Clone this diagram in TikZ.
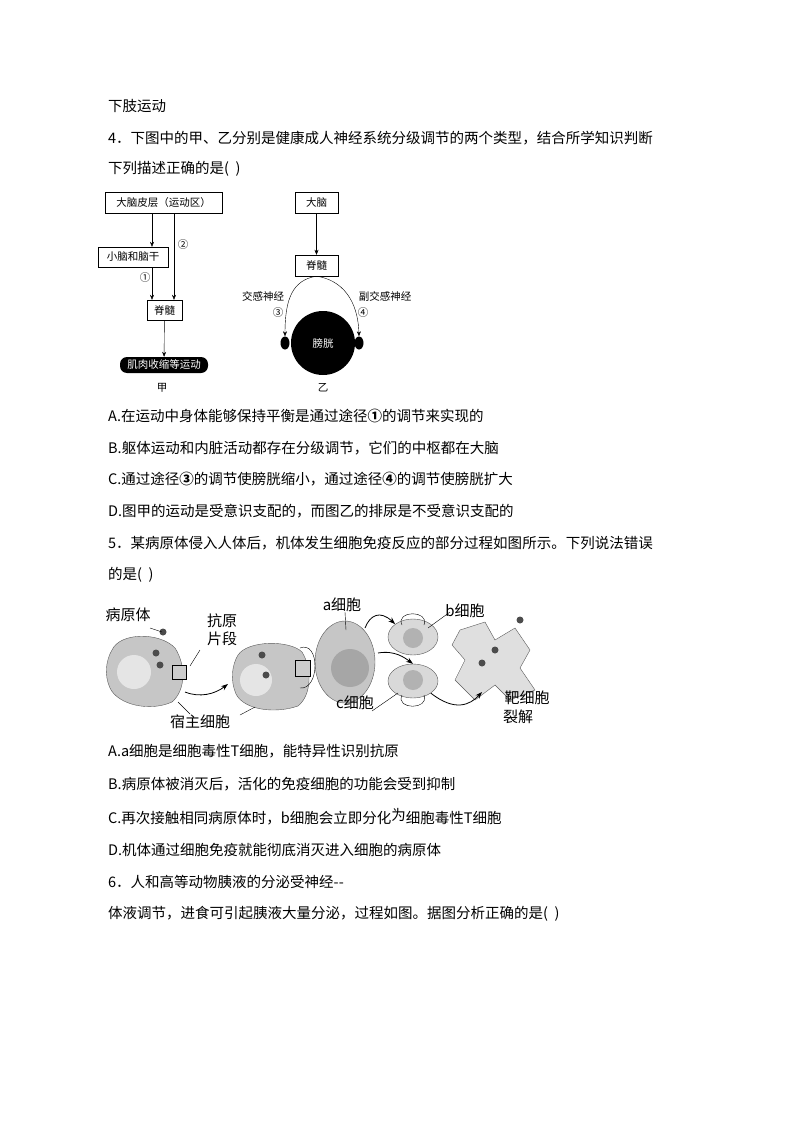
\documentclass[tikz,border=0pt]{standalone}
\usepackage{fontspec}
\setmainfont{Noto Sans CJK SC}
\usetikzlibrary{arrows.meta,shapes.geometric}
\begin{document}
\begin{tikzpicture}[x=1pt,y=-1pt,
  txt/.style={anchor=west,inner sep=0,font=\fontsize{14.5}{16}\selectfont},
  bx/.style={draw,thin,inner sep=0,font=\fontsize{10.5}{11}\selectfont},
  sm/.style={inner sep=0,font=\fontsize{10.5}{11}\selectfont},
  lb/.style={inner sep=0,font=\fontsize{15}{16}\selectfont},
  ar/.style={-{Stealth[length=5pt,width=4pt]},thin},
  car/.style={-{Stealth[length=7pt,width=5pt]},thick},
  cell/.style={fill=gray!45,draw=gray!70!black,thin}]
\useasboundingbox (0,0) rectangle (794,1123);
\node[txt] (t0) at (108,106) {下肢运动};
\node[txt] (t1) at (108,138) {4．下图中的甲、乙分别是健康成人神经系统分级调节的两个类型，结合所学知识判断};
\node[txt] (t2) at (108,169) {下列描述正确的是(\ \ )};
% diagram 甲
\node[bx,minimum width=117,minimum height=21] (dn) at (163.5,202.5) {大脑皮层（运动区）};
\node[bx,minimum width=70,minimum height=20] (xn) at (133,257) {小脑和脑干};
\node[bx,minimum width=35,minimum height=20] (jl) at (164.5,310) {脊髓};
\node[fill=black,text=white,rounded corners=7pt,minimum width=88,minimum height=16,inner sep=0,font=\fontsize{10.5}{11}\selectfont] (jr) at (164,365) {肌肉收缩等运动};
\node[sm] (jia) at (162,388) {甲};
\draw[ar] (dn.south -| 152,0) -- (xn.north -| 152,0);
\draw[ar] (dn.south -| 174,0) -- (jl.north -| 174,0);
\draw[ar] (xn.south -| 152,0) -- (jl.north -| 152,0);
\draw[ar] (jl) -- (jr);
\node[sm] (c2) at (183,245) {②};
\node[sm] (c1) at (145,278) {①};
% diagram 乙
\node[bx,minimum width=43,minimum height=21] (dn2) at (316.5,202.5) {大脑};
\node[bx,minimum width=43,minimum height=21] (jl2) at (316.5,265.5) {脊髓};
\draw[ar] (dn2) -- (jl2);
\node[circle,fill=black,minimum size=64,inner sep=0,text=white,font=\fontsize{10.5}{11}\selectfont] (pg) at (323,343) {膀胱};
\node[ellipse,fill=black,minimum width=9,minimum height=13,inner sep=0] (el) at (285,343) {};
\node[ellipse,fill=black,minimum width=9,minimum height=13,inner sep=0] (er) at (359,343) {};
\draw[ar] (jl2.south) .. controls (292,280) and (285,300) .. (el.north);
\draw[ar] (jl2.south) .. controls (342,280) and (358,300) .. (er.north);
\node[sm] (jg) at (263,296) {交感神经};
\node[sm] (c3) at (278,313) {③};
\node[sm] (fj) at (385,296) {副交感神经};
\node[sm] (c4) at (363,313) {④};
\node[sm] (yi) at (323,388) {乙};
\node[txt] (a4) at (108,416) {A.在运动中身体能够保持平衡是通过途径\textbf{①}的调节来实现的};
\node[txt] (b4) at (108,448) {B.躯体运动和内脏活动都存在分级调节，它们的中枢都在大脑};
\node[txt] (c4t) at (108,479) {C.通过途径\textbf{③}的调节使膀胱缩小，通过途径\textbf{④}的调节使膀胱扩大};
\node[txt] (d4) at (108,511) {D.图甲的运动是受意识支配的，而图乙的排尿是不受意识支配的};
\node[txt] (q5) at (108,543) {5．某病原体侵入人体后，机体发生细胞免疫反应的部分过程如图所示。下列说法错误};
\node[txt] (q5b) at (108,575) {的是(\ \ )};
% cell picture
\path[cell] (112,650) .. controls (120,632) and (160,632) .. (175,648) .. controls (186,665) and (186,690) .. (172,702) .. controls (150,712) and (118,705) .. (110,688) .. controls (104,675) and (106,660) .. (112,650) -- cycle;
\node[circle,fill=gray!20,minimum size=34,inner sep=0] (n1) at (134,672) {};
\path[cell] (238,655) .. controls (248,640) and (290,640) .. (302,652) .. controls (312,668) and (312,695) .. (298,706) .. controls (275,714) and (244,710) .. (236,694) .. controls (230,680) and (232,665) .. (238,655) -- cycle;
\node[circle,fill=gray!20,minimum size=32,inner sep=0] (n2) at (256,680) {};
\node[ellipse,cell,minimum width=60,minimum height=82] (ac) at (345,662) {};
\node[circle,fill=gray!70,minimum size=38,inner sep=0] (an) at (350,668) {};
\node[ellipse,cell,fill=gray!30,minimum width=50,minimum height=36] (bc) at (413,637) {};
\node[circle,fill=gray!60,minimum size=20,inner sep=0] (bn) at (413,638) {};
\node[ellipse,cell,fill=gray!30,minimum width=50,minimum height=34] (cc) at (413,681) {};
\node[circle,fill=gray!60,minimum size=20,inner sep=0] (cn) at (413,680) {};
\path[cell,fill=gray!25] (460,630) -- (485,622) -- (495,640) -- (515,628) -- (530,650) -- (520,668) -- (535,690) -- (510,700) -- (495,685) -- (475,700) -- (455,680) -- (465,660) -- (452,645) -- cycle;
\foreach \p in {(163,632),(156,653),(160,665),(262,655),(266,675),(495,650),(482,663),(520,620)} \fill[gray!60!black] \p circle (3.5);
\draw[fill=gray!40] (172,665) rectangle (186,679);
\draw[fill=gray!40] (295,660) rectangle (310,676);
\draw[thin] (300,648) .. controls (320,640) and (320,690) .. (300,688);
\draw[thin] (402,625) .. controls (395,610) and (430,610) .. (424,625);
\draw[thin] (402,695) .. controls (395,710) and (430,710) .. (424,695);
\coordinate (h1) at (185,692);
\coordinate (h2) at (228,684);
\draw[car] (h1) .. controls (200,698) and (215,694) .. (h2);
\draw[car] (365,628) .. controls (370,615) and (380,610) .. (bc.north west);
\draw[car] (378,653) .. controls (395,650) and (405,658) .. (cc.north);
\draw[car] (cc.south east) .. controls (455,712) and (470,705) .. (482,692);
\draw[thin] (150,628) -- (162,632);
\draw[thin] (190,666) -- (200,650);
\draw[thin] (345,612) -- (346,630);
\draw[thin] (428,628) -- (450,612);
\draw[thin] (372,711) -- (398,693);
\draw[thin] (178,702) -- (190,714);
\draw[thin] (255,707) -- (240,715);
\node[lb] (by) at (128,615) {病原体};
\node[lb] (ky) at (222,621) {抗原};
\node[lb] (pd) at (222,639) {片段};
\node[lb] (ax) at (342,605) {a细胞};
\node[lb] (bx) at (465,611) {b细胞};
\node[lb] (cx) at (355,703) {c细胞};
\node[lb] (sz) at (200,722) {宿主细胞};
\node[lb] (bx1) at (527,698) {靶细胞};
\node[lb] (bx2) at (518,717) {裂解};
\node[txt] (a5) at (108,751) {A.a细胞是细胞毒性T细胞，能特异性识别抗原};
\node[txt] (b5) at (108,784) {B.病原体被消灭后，活化的免疫细胞的功能会受到抑制};
\node[txt] (c5) at (108,817) {C.再次接触相同病原体时，b细胞会立即分化\raisebox{3pt}{为}细胞毒性T细胞};
\node[txt] (d5) at (108,850) {D.机体通过细胞免疫就能彻底消灭进入细胞的病原体};
\node[txt] (q6) at (108,882) {6．人和高等动物胰液的分泌受神经-{}-};
\node[txt] (q6b) at (108,914) {体液调节，进食可引起胰液大量分泌，过程如图。据图分析正确的是(\ \ )};
\end{tikzpicture}
\end{document}
